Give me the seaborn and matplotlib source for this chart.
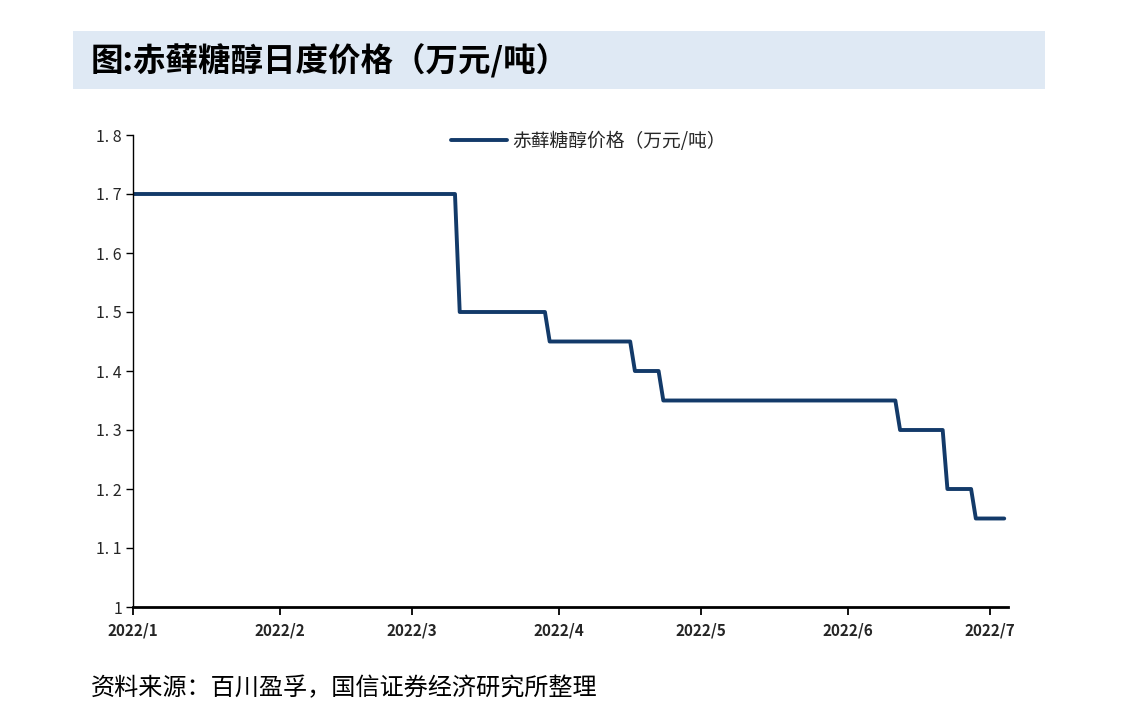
import pandas as pd
import numpy as np
import seaborn as sns
import matplotlib.pyplot as plt
import matplotlib.dates as mdates
from matplotlib.patches import Rectangle
from matplotlib.ticker import FuncFormatter

# price levels (万元/吨) and the first day each level applies
level_start = ["2022-01-01", "2022-03-11", "2022-03-30", "2022-04-17",
               "2022-04-23", "2022-06-12", "2022-06-22", "2022-06-28"]
level_price = [1.70, 1.50, 1.45, 1.40, 1.35, 1.30, 1.20, 1.15]
last_day = "2022-07-04"

title = "图:赤藓糖醇日度价格（万元/吨）"
series_name = "赤藓糖醇价格（万元/吨）"
source = "资料来源：百川盈孚，国信证券经济研究所整理"
xtick_dates = ["2022-01-01", "2022-02-01", "2022-03-01", "2022-04-01",
               "2022-05-01", "2022-06-01", "2022-07-01"]
yticks = [1.0, 1.1, 1.2, 1.3, 1.4, 1.5, 1.6, 1.7, 1.8]

# daily series: hold each level until the next change
levels = pd.Series(level_price, index=pd.to_datetime(level_start))
days = pd.date_range(level_start[0], last_day, freq="D")
df = pd.DataFrame({"date": days, "price": levels.reindex(days).ffill().values})

sns.set_theme(style="white")
plt.rcParams['font.family'] = ['Noto Sans CJK SC', 'DejaVu Sans']

fig = plt.figure(figsize=(11.42, 7.1), dpi=100)
ax = fig.add_axes([133 / 1142, 1 - 607 / 710, (1008.5 - 133) / 1142, (607 - 135) / 710])

# title band
fig.patches.append(Rectangle((73 / 1142, 1 - 89 / 710), (1045 - 73) / 1142, 58 / 710,
                             transform=fig.transFigure, facecolor="#dfe9f4",
                             edgecolor="none", zorder=0))
fig.text(91 / 1142, 1 - 61 / 710, title, fontsize=23.4, fontweight="bold",
         va="center", ha="left", color="black")
fig.text(91 / 1142, 1 - 688 / 710, source, fontsize=17.4, va="center",
         ha="left", color="black")

sns.lineplot(data=df, x="date", y="price", ax=ax, color="#133a69",
             linewidth=2.8, label=series_name)

ax.set_xlim(pd.Timestamp(level_start[0]), pd.Timestamp(last_day) + pd.Timedelta(days=0.9))
ax.set_ylim(1.0, 1.8)
ax.set_xticks(pd.to_datetime(xtick_dates))
ax.xaxis.set_major_formatter(FuncFormatter(
    lambda v, p: "%d/%d" % (mdates.num2date(v).year, mdates.num2date(v).month)))
ax.set_yticks(yticks)
ax.yaxis.set_major_formatter(FuncFormatter(lambda v, p: ("%g" % round(v, 1)).replace(".", ". ")))
ax.set_xlabel("")
ax.set_ylabel("")

for s in ["top", "right"]:
    ax.spines[s].set_visible(False)
ax.spines["left"].set_color("black")
ax.spines["left"].set_linewidth(1.0)
ax.spines["bottom"].set_color("black")
ax.spines["bottom"].set_linewidth(2.0)
ax.tick_params(axis="y", direction="out", length=5, width=1, color="black",
               labelsize=11.5, pad=3, left=True)
ax.tick_params(axis="x", direction="out", length=6, width=1.3, color="black",
               labelsize=11, pad=5, bottom=True)
for lab in ax.get_xticklabels():
    lab.set_fontweight("bold")

leg = ax.legend(loc="upper center", bbox_to_anchor=(0.52, 1.045), frameon=False,
                fontsize=13.5, handlelength=3.0, handletextpad=0.3)

fig.savefig("out.png", dpi=100)
